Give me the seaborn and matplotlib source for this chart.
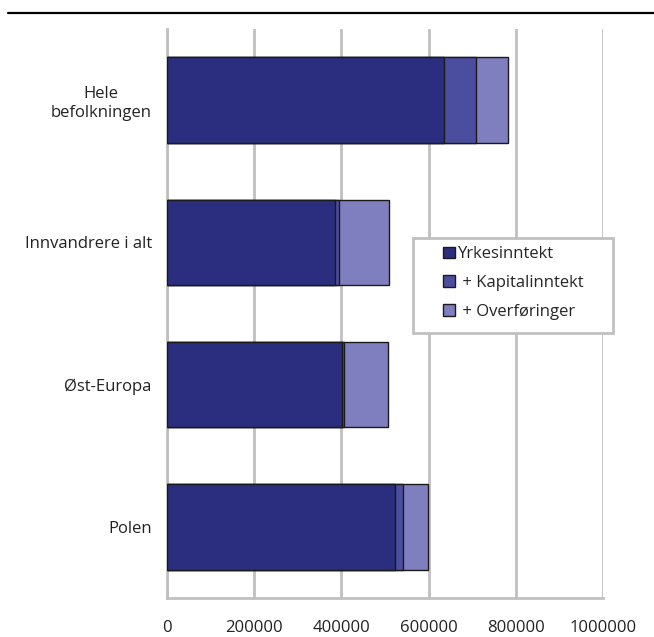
import matplotlib.pyplot as plt
import numpy as np
import pandas as pd
import seaborn as sns
from matplotlib.lines import Line2D
from matplotlib.patches import Patch, Rectangle

categories = ["Hele\nbefolkningen", "Innvandrere i alt", "Øst-Europa", "Polen"]
yrkes = [636000, 385000, 401000, 523000]
kapital = [72000, 10000, 4000, 19000]
overf = [74000, 113000, 101000, 57000]
labels = ["Yrkesinntekt", " + Kapitalinntekt", " + Overføringer"]
colors = ["#2b2e7e", "#4b4e9f", "#7f7fbf"]

df = pd.DataFrame({"cat": categories, "yrkes": yrkes, "kapital": kapital, "overf": overf})
df["s1"] = df["yrkes"]
df["s2"] = df["s1"] + df["kapital"]
df["s3"] = df["s2"] + df["overf"]

sns.set_style("white")
plt.rcParams["font.family"] = ["Open Sans", "DejaVu Sans"]

fig = plt.figure(figsize=(6.54, 6.37), dpi=100)
ax = fig.add_axes([0.2554, 0.0612, 0.6667, 0.8933])

# cumulative bars, largest first, so they look stacked
for col, c in zip(["s3", "s2", "s1"], colors[::-1]):
    sns.barplot(data=df, x=col, y="cat", orient="h", color=c, saturation=1,
                width=0.6, edgecolor="#1a1a1a", linewidth=1, ax=ax, zorder=3)

ax.set_xlim(0, 1000000)
ax.set_ylim(3.5, -0.5)
ax.set_xticks(np.arange(0, 1000001, 200000))
ax.set_xticklabels([str(v) for v in range(0, 1000001, 200000)], fontsize=12, color="#222222")
ax.set_xlabel("")
ax.set_ylabel("")
ax.tick_params(axis="y", which="major", length=0, pad=11, labelsize=12, labelcolor="#222222")
for lab in ax.get_yticklabels():
    lab.set_horizontalalignment("right")
    lab.set_multialignment("center")
ax.set_yticks([-0.5, 0.5, 1.5, 2.5, 3.5], minor=True)
ax.tick_params(axis="y", which="minor", length=6, width=2, color="#c0c0c0")
ax.tick_params(axis="x", which="major", length=7, width=2, color="#c0c0c0", pad=9)

ax.grid(axis="x", color="#c0c0c0", linewidth=2, zorder=0)
ax.set_axisbelow(True)
for s in ["top", "right"]:
    ax.spines[s].set_visible(False)
for s in ["left", "bottom"]:
    ax.spines[s].set_color("#c0c0c0")
    ax.spines[s].set_linewidth(2)

# legend frame drawn by hand to get the wide box
ax.add_patch(Rectangle((0.564, 0.466), 0.459, 0.167, transform=ax.transAxes,
                       facecolor="white", edgecolor="#c0c0c0", linewidth=2,
                       clip_on=False, zorder=5))
handles = [Patch(facecolor=c, edgecolor="#1a1a1a", linewidth=1) for c in colors]
leg = ax.legend(handles, labels, loc="upper left", bbox_to_anchor=(0.632, 0.618),
                fontsize=12, frameon=False, borderaxespad=0, borderpad=0,
                handlelength=0.72, handleheight=0.72, handletextpad=0.2,
                labelspacing=0.76)
leg.set_zorder(6)

fig.add_artist(Line2D([0.012, 1.0], [0.979, 0.979], color="black", linewidth=1.6))

fig.savefig("out.png", dpi=100)
